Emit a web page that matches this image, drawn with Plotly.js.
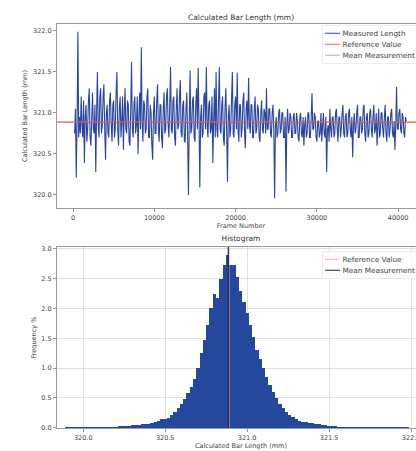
<!DOCTYPE html>
<html>
<head>
<meta charset="utf-8">
<script src="https://cdn.plot.ly/plotly-3.0.1.min.js"></script>
<style>
html,body{margin:0;padding:0;overflow:hidden;background:#fff;}
#wrap{width:416px;height:451px;overflow:hidden;position:relative;}
#chart{width:880px;height:902px;transform:scale(0.5);transform-origin:0 0;position:absolute;left:0;top:0;}
</style>
</head>
<body>
<div id="wrap"><div id="chart"></div></div>
<script>
// ---- data ----
const frameStart = 200;      // first frame of the series
const frameStep = 100;       // frames between plotted samples
const measuredLength = [
320.75,321.05,320.21,320.9,321.99,320.7,320.95,320.75,321.2,320.85,320.7,321.15,320.39,320.95,321.1,320.65,320.8,321.15,321.3,320.7,
320.6,321.0,321.25,320.8,320.75,321.1,320.28,321.0,321.5,320.85,320.7,321.2,321.3,320.75,320.85,321.2,321.35,320.8,320.43,321.0,
321.1,320.75,320.7,321.15,321.25,320.85,320.65,321.1,321.15,320.7,320.8,321.25,321.5,320.8,320.6,321.05,321.2,320.7,320.9,321.2,
320.55,321.0,321.3,320.8,320.75,321.15,321.1,320.65,320.6,321.05,321.62,320.8,320.7,321.1,321.2,320.75,320.85,321.2,320.5,320.95,
321.25,320.8,321.8,320.9,320.65,321.15,321.1,320.75,320.8,321.2,321.3,320.7,320.7,321.1,321.0,320.6,320.43,321.0,321.2,320.75,
320.75,321.15,321.35,320.8,320.65,321.1,321.1,320.7,320.57,321.05,321.25,320.75,320.8,321.2,321.3,320.85,320.7,321.1,321.56,320.8,
320.75,321.15,321.2,320.7,320.6,321.05,321.3,320.8,320.85,321.2,321.4,320.75,320.7,321.1,321.15,320.65,320.65,321.05,321.25,320.7,
320.0,320.9,321.52,320.75,320.8,321.15,321.2,320.7,320.65,321.1,321.3,320.8,321.55,320.9,320.09,320.95,321.1,320.7,320.75,321.2,
321.25,320.8,321.56,320.85,320.7,321.1,321.15,320.75,320.8,321.2,320.39,320.9,321.3,320.7,321.5,320.8,320.7,321.15,321.56,320.8,
320.75,321.1,321.2,320.7,320.6,321.05,321.3,320.8,320.16,320.95,321.1,320.7,320.8,321.15,321.5,320.75,320.7,321.1,321.2,320.8,
321.49,320.8,320.65,321.1,321.1,320.7,320.8,321.15,321.25,320.75,320.57,321.05,321.15,320.8,321.43,320.85,320.75,321.1,321.1,320.7,
320.7,321.05,321.2,320.75,320.8,321.1,321.05,320.7,320.65,321.0,321.15,320.8,320.75,321.05,321.0,320.75,321.3,320.8,320.8,321.05,
321.05,320.75,320.7,321.0,321.1,320.8,319.96,320.85,320.95,320.7,320.75,321.0,321.05,320.75,320.8,321.0,321.0,320.7,320.7,320.95,
320.04,320.85,321.05,320.75,320.8,321.0,320.95,320.7,320.7,320.95,321.0,320.75,320.75,321.0,320.9,320.7,320.65,320.95,321.0,320.75,
320.7,320.95,320.6,320.85,320.95,320.7,320.75,321.0,321.0,320.7,320.7,320.95,321.24,320.8,320.8,321.0,320.95,320.7,320.65,320.9,
320.9,320.7,320.75,321.0,320.65,320.85,321.0,320.75,320.7,320.95,320.28,320.8,320.85,320.65,321.05,320.8,320.7,320.95,320.95,320.7,
320.75,321.0,321.05,320.8,320.65,320.95,320.95,320.7,320.8,321.0,321.1,320.75,320.7,320.95,321.0,320.7,320.75,321.0,321.05,320.8,
320.7,320.95,320.46,320.85,321.0,320.75,320.8,321.0,321.1,320.7,320.7,320.95,320.95,320.75,320.8,321.05,321.1,320.75,320.65,320.95,
321.0,320.7,320.75,321.0,321.05,320.8,320.7,320.95,321.1,320.75,320.8,321.0,320.6,320.85,321.05,320.7,320.75,321.0,321.0,320.8,
320.7,320.95,321.1,320.75,320.65,320.95,320.95,320.7,320.8,321.0,321.05,320.75,320.7,320.9,320.55,320.85,321.32,320.8,320.8,321.0,
321.05,320.8,320.75,321.0,320.95,320.75,320.7,320.95,320.9
];
const referenceValue = 320.89;
const meanMeasurement = 320.885;

const histBinStart = 319.90;
const histBinWidth = 0.02;
const histFrequency = [
0.005,0.005,0.01,0.01,0.015,
0.02,0.02,0.01,0.01,0.01,0.015,0.015,0.015,0.015,0.02,
0.02,0.03,0.03,0.03,0.035,0.04,0.045,0.05,0.055,0.06,
0.07,0.08,0.1,0.12,0.14,0.15,0.17,0.22,0.27,0.33,
0.4,0.48,0.58,0.68,0.82,1.0,1.25,1.47,1.72,2.0,
2.25,2.17,2.5,2.72,2.9,2.72,2.72,2.52,2.3,2.1,
1.93,1.72,1.52,1.3,1.15,1.0,0.85,0.72,0.6,0.5,
0.4,0.33,0.27,0.22,0.18,0.14,0.12,0.1,0.09,0.08,
0.075,0.07,0.06,0.05,0.045,0.035,0.03,0.025,0.02,0.02,
0.02,0.015,0.015,0.015,0.015,0.015,0.01,0.01,0.015,0.01,
0.01,0.01,0.01,0.005,0.005,0.005,0.005,0.005,0.005,0.005
];

const topXTicks = [0, 10000, 20000, 30000, 40000];
const lengthTicks = [320.0, 320.5, 321.0, 321.5, 322.0];
const freqTicks = [0.0, 0.5, 1.0, 1.5, 2.0, 2.5, 3.0];

// ---- styles (drawn at 2x, then scaled to 0.5) ----
const S = 2;
const FONT = 'DejaVu Sans, sans-serif';
const TXT = '#444';
const measuredColor = '#2b46a0';
const refColor = '#e8686a';
const refHistColor = '#f2a0a0';
const meanTopColor = '#8fa58f';
const meanHistColor = '#1e2a4a';
const barColor = '#24489c';

const traces = [
  {
    type: 'scatter', mode: 'lines', name: 'Measured Length',
    x0: frameStart, dx: frameStep, y: measuredLength,
    line: {color: measuredColor, width: 2.2},
    xaxis: 'x', yaxis: 'y', legend: 'legend', legendrank: 1
  },
  {
    type: 'bar', name: 'hist', showlegend: false,
    x0: histBinStart, dx: histBinWidth, y: histFrequency,
    width: histBinWidth,
    marker: {color: barColor, line: {width: 0}},
    xaxis: 'x2', yaxis: 'y2'
  }
];

const tf = {family: FONT, size: 6.5 * S, color: TXT};
const axisCommon = {
  showline: true, mirror: true, linecolor: '#9a9a9a', linewidth: 1 * S,
  ticks: 'outside', ticklen: 3 * S, tickcolor: '#777', tickwidth: 0.8 * S,
  tickfont: tf, zeroline: false
};

const layout = {
  width: 880, height: 902,
  margin: {l: 57 * S, r: 15 * S, t: 0, b: 0},
  paper_bgcolor: '#fff', plot_bgcolor: '#fff',
  font: {family: FONT, color: TXT},
  bargap: 0,
  xaxis: Object.assign({}, axisCommon, {
    domain: [0, 1], anchor: 'y', range: [-1970, 43300],
    tickvals: topXTicks, tickformat: 'd', showgrid: false,
    title: {text: 'Frame Number', font: tf, standoff: 3 * S}
  }),
  yaxis: Object.assign({}, axisCommon, {
    domain: [0.5388, 0.9468], anchor: 'x', range: [319.84, 322.085],
    tickvals: lengthTicks, tickformat: '.1f', showgrid: false,
    title: {text: 'Calculated Bar Length (mm)', font: tf, standoff: 4 * S}
  }),
  xaxis2: Object.assign({}, axisCommon, {
    domain: [0, 1], anchor: 'y2', range: [319.84, 322.085],
    tickvals: lengthTicks, tickformat: '.1f',
    showgrid: true, gridcolor: '#d8d8d8', gridwidth: 0.8 * S,
    title: {text: 'Calculated Bar Length (mm)', font: tf, standoff: 3 * S}
  }),
  yaxis2: Object.assign({}, axisCommon, {
    domain: [0.051, 0.4523], anchor: 'x2', range: [-0.005, 3.03],
    tickvals: freqTicks, tickformat: '.1f',
    showgrid: true, gridcolor: '#d8d8d8', gridwidth: 0.8 * S,
    title: {text: 'Frequency %', font: tf, standoff: 4 * S}
  }),
  shapes: [
    {type: 'line', xref: 'x domain', yref: 'y', x0: 0, x1: 1, y0: meanMeasurement, y1: meanMeasurement,
     line: {color: meanTopColor, width: 0.8 * S}, layer: 'below',
     showlegend: true, name: 'Mean Measurement', legend: 'legend', legendrank: 3},
    {type: 'line', xref: 'x domain', yref: 'y', x0: 0, x1: 1, y0: referenceValue, y1: referenceValue,
     line: {color: refColor, width: 1 * S}, layer: 'above',
     showlegend: true, name: 'Reference Value', legend: 'legend', legendrank: 2},
    {type: 'line', xref: 'x2', yref: 'y2 domain', x0: referenceValue, x1: referenceValue, y0: 0, y1: 1,
     line: {color: refHistColor, width: 0.8 * S}, layer: 'above',
     showlegend: true, name: 'Reference Value', legend: 'legend2', legendrank: 1},
    {type: 'line', xref: 'x2', yref: 'y2 domain', x0: meanMeasurement, x1: meanMeasurement, y0: 0, y1: 1,
     line: {color: meanHistColor, width: 1.2 * S}, layer: 'above',
     showlegend: true, name: 'Mean Measurement', legend: 'legend2', legendrank: 2}
  ],
  legend: {
    x: 0.72, y: 0.945, xanchor: 'left', yanchor: 'top',
    bgcolor: 'rgba(255,255,255,0.85)', bordercolor: '#dcdcdc', borderwidth: 1,
    font: {family: FONT, size: 7.3 * S, color: TXT}, tracegroupgap: 0, itemwidth: 30,
    traceorder: 'normal'
  },
  legend2: {
    x: 0.72, y: 0.444, xanchor: 'left', yanchor: 'top',
    bgcolor: 'rgba(255,255,255,0.85)', bordercolor: '#dcdcdc', borderwidth: 1,
    font: {family: FONT, size: 7.3 * S, color: TXT}, tracegroupgap: 0, itemwidth: 30,
    traceorder: 'normal'
  },
  annotations: [
    {text: 'Calculated Bar Length (mm)', xref: 'paper', yref: 'paper', x: 0.5, y: 0.962,
     xanchor: 'center', yanchor: 'middle', showarrow: false, font: {family: FONT, size: 7.5 * S, color: '#333'}},
    {text: 'Histogram', xref: 'paper', yref: 'paper', x: 0.5, y: 0.472,
     xanchor: 'center', yanchor: 'middle', showarrow: false, font: {family: FONT, size: 7.5 * S, color: '#333'}}
  ]
};

Plotly.newPlot('chart', traces, layout, {displayModeBar: false, staticPlot: true});
</script>
</body>
</html>
